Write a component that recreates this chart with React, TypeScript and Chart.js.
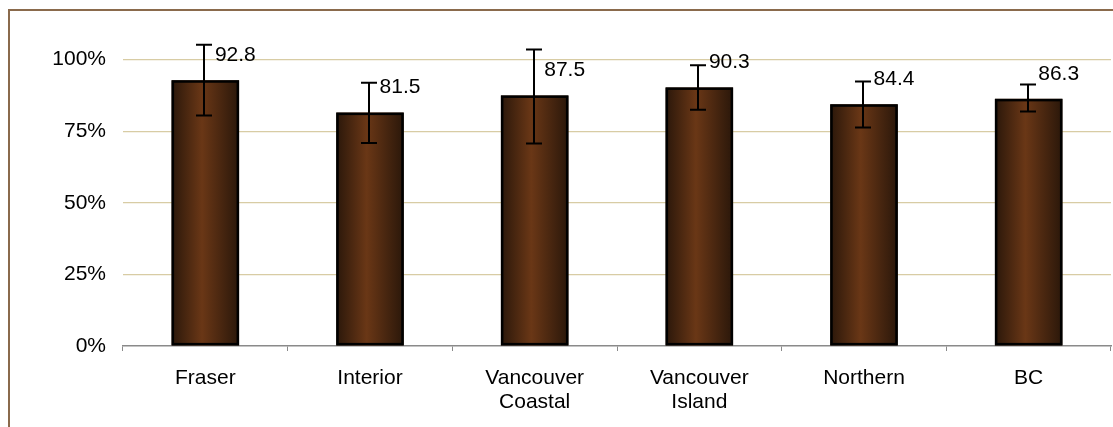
import React, { useEffect, useRef } from "react";
import { Chart, registerables } from "chart.js";

Chart.register(...registerables);

const categories = ["Fraser", "Interior", "Vancouver Coastal", "Vancouver Island", "Northern", "BC"];
const values = [92.8, 81.5, 87.5, 90.3, 84.4, 86.3];
const errorLow = [80.5, 70.9, 70.7, 82.5, 76.3, 81.9];
const errorHigh = [105.2, 91.9, 103.5, 98.0, 92.4, 91.3];
const yTickValues = [0, 25, 50, 75, 100];

const FONT = "'Liberation Sans', Arial, sans-serif";
const FONT_SIZE = 21;
const BAR_PCT = 0.41;
const BAR_BORDER = 2.5;

const errorBarPlugin = {
  id: "errorBars",
  afterDatasetsDraw(chart: any) {
    const ctx = chart.ctx;
    const xs = chart.scales.x;
    const ys = chart.scales.y;
    const meta = chart.getDatasetMeta(0);
    ctx.save();
    // bar outlines
    ctx.strokeStyle = "#000";
    ctx.lineWidth = BAR_BORDER;
    meta.data.forEach((el: any) => {
      const { x, y, base, width } = el.getProps(["x", "y", "base", "width"], true);
      const h = BAR_BORDER / 2;
      ctx.strokeRect(x - width / 2 + h, y + h, width - BAR_BORDER, base - y - BAR_BORDER);
    });
    // error bars
    ctx.lineWidth = 2;
    for (let i = 0; i < values.length; i++) {
      const x = Math.round(xs.getPixelForValue(i)) - 1;
      const yt = ys.getPixelForValue(errorHigh[i]);
      const yb = ys.getPixelForValue(errorLow[i]);
      ctx.beginPath();
      ctx.moveTo(x, yt);
      ctx.lineTo(x, yb);
      ctx.moveTo(x - 8, yt);
      ctx.lineTo(x + 8, yt);
      ctx.moveTo(x - 8, yb);
      ctx.lineTo(x + 8, yb);
      ctx.stroke();
    }
    // value labels
    ctx.fillStyle = "#000";
    ctx.font = `${FONT_SIZE}px ${FONT}`;
    ctx.textAlign = "center";
    ctx.textBaseline = "middle";
    for (let i = 0; i < values.length; i++) {
      const x = xs.getPixelForValue(i) + 30;
      const y = ys.getPixelForValue(values[i]) - 25;
      ctx.fillText(values[i].toFixed(1), x, y);
    }
    ctx.restore();
  },
};

export default function App() {
  const ref = useRef<HTMLCanvasElement | null>(null);

  useEffect(() => {
    if (!ref.current) return;
    const chart = new Chart(ref.current, {
      type: "bar",
      data: {
        labels: categories.map((c) => c.split(" ")),
        datasets: [
          {
            data: values,
            backgroundColor: (context: any) => {
              const chart = context.chart;
              const xs = chart.scales?.x;
              if (!xs || context.dataIndex === undefined) return "#5a2f12";
              const cx = xs.getPixelForValue(context.dataIndex);
              const w = (xs.width / categories.length) * BAR_PCT;
              if (!isFinite(cx) || !isFinite(w) || w <= 0) return "#5a2f12";
              const g = chart.ctx.createLinearGradient(cx - w / 2, 0, cx + w / 2, 0);
              g.addColorStop(0, "#2a170a");
              g.addColorStop(0.45, "#6a3716");
              g.addColorStop(1, "#2a170a");
              return g;
            },
            borderWidth: 0,
            inflateAmount: 0,
            barPercentage: BAR_PCT,
            categoryPercentage: 1,
          },
        ],
      },
      options: {
        responsive: false,
        animation: false,
        layout: { padding: { left: 0, right: 2, top: 31, bottom: 0 } },
        plugins: {
          legend: { display: false },
          tooltip: { enabled: false },
        },
        scales: {
          x: {
            grid: {
              drawOnChartArea: false,
              drawTicks: true,
              tickLength: 5,
              color: "#8a8a8a",
              lineWidth: 1,
              offset: true,
            },
            border: { display: true, color: "#8a8a8a", width: 1.5 },
            ticks: {
              color: "#000",
              font: { family: FONT, size: FONT_SIZE, lineHeight: 1.15 },
              padding: 15,
              autoSkip: false,
              maxRotation: 0,
            },
            afterFit: (scale: any) => {
              scale.height = 81;
            },
          },
          y: {
            min: 0,
            max: 110,
            grid: {
              drawTicks: false,
              color: (ctx: any) => (ctx.tick && ctx.tick.value === 0 ? "rgba(0,0,0,0)" : "#d8cca4"),
              lineWidth: 1.2,
            },
            border: { display: false },
            afterBuildTicks: (scale: any) => {
              scale.ticks = yTickValues.map((v) => ({ value: v }));
            },
            ticks: {
              color: "#000",
              font: { family: FONT, size: FONT_SIZE },
              padding: 17,
              callback: (v: any) => `${v}%`,
            },
            afterFit: (scale: any) => {
              scale.width = 123;
            },
          },
        },
      },
      plugins: [errorBarPlugin],
    });
    chart.update();
    return () => chart.destroy();
  }, []);

  return (
    <div
      style={{
        position: "fixed",
        left: 0,
        top: 0,
        width: 1113,
        height: 427,
        overflow: "hidden",
        background: "#fff",
      }}
    >
      <canvas
        ref={ref}
        width={1113}
        height={427}
        style={{ position: "absolute", left: 0, top: 0, width: 1113, height: 427 }}
      />
      <div
        style={{
          position: "absolute",
          left: 8,
          top: 9,
          width: 1300,
          height: 700,
          borderTop: "2px solid #8a6a4c",
          borderLeft: "2px solid #8a6a4c",
          pointerEvents: "none",
        }}
      />
    </div>
  );
}
